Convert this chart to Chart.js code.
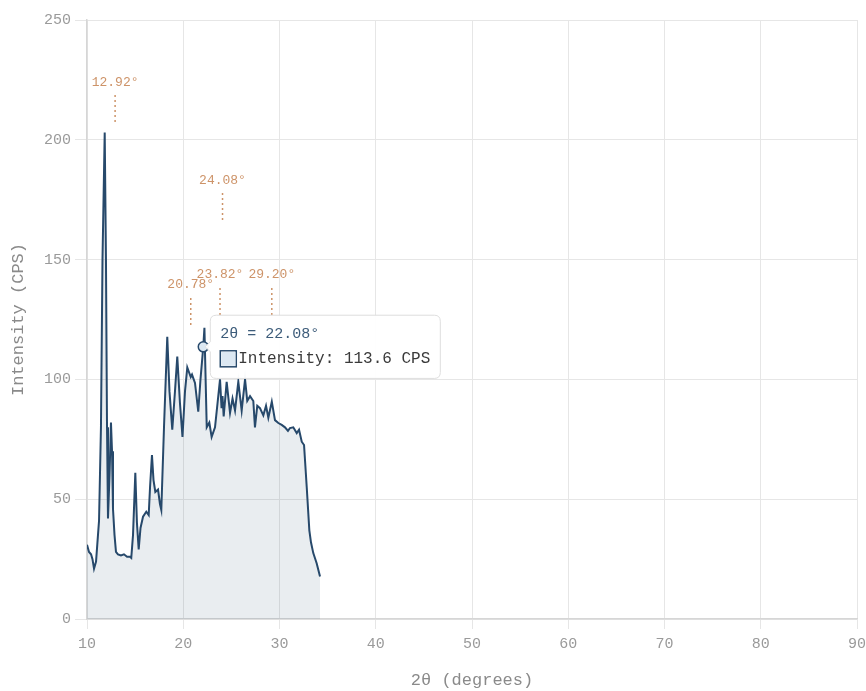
<!DOCTYPE html>
<html>
<head>
<meta charset="utf-8">
<script src="https://cdn.jsdelivr.net/npm/chart.js@4/dist/chart.umd.min.js"></script>
<style>
  html, body { margin: 0; padding: 0; background: #ffffff; }
  canvas { display: block; }
</style>
</head>
<body>
<canvas id="xrd" width="866" height="691"></canvas>
<script>
// Diffraction scan: 2θ angle (degrees) and measured intensity (counts per second)
const twoTheta = [
  10.00, 10.21, 10.42, 10.57, 10.73, 10.94, 11.14, 11.25, 11.45, 11.61,
  11.84, 11.97, 12.08, 12.18, 12.34, 12.49, 12.60, 12.70, 12.86, 13.01,
  13.22, 13.53, 13.84, 14.16, 14.47, 14.60, 14.78, 15.02, 15.19, 15.37,
  15.56, 15.82, 16.16, 16.41, 16.55, 16.75, 16.91, 17.10, 17.38, 17.58,
  17.72, 18.00, 18.34, 18.57, 18.86, 19.14, 19.38, 19.66, 19.92, 20.18,
  20.42, 20.78, 20.91, 21.22, 21.56, 21.79, 22.08, 22.20, 22.44, 22.71,
  22.95, 23.30, 23.56, 23.82, 23.98, 24.08, 24.20, 24.51, 24.86, 25.12,
  25.38, 25.72, 26.07, 26.42, 26.65, 26.94, 27.28, 27.45, 27.69, 27.97,
  28.32, 28.60, 28.84, 29.20, 29.53, 29.88, 30.23, 30.57, 30.88, 31.09,
  31.43, 31.79, 32.03, 32.31, 32.55, 32.83, 33.10, 33.27, 33.51, 33.86,
  34.21
];
const intensity = [
  31, 28, 27, 25, 21, 24, 35, 41, 80, 150,
  203, 150, 80, 42, 60, 82, 70, 46, 35, 28,
  27, 26.5, 27, 26, 26, 25.5, 35, 61, 40, 29,
  38, 42.7, 44.8, 43.4, 55, 68.4, 58, 53, 54, 48,
  45.5, 80, 117.8, 95, 79, 95, 109.5, 90, 76, 95,
  105, 101, 102, 98.5, 86.5, 100, 113.6, 121.5, 80, 82,
  76, 80, 90, 100, 88, 93, 84.5, 99, 86, 92,
  87, 99, 87, 100, 91, 93, 91, 80, 89, 88,
  85, 89, 84, 90.7, 83, 81.8, 81, 80, 78.5, 79.7,
  80, 77.6, 79, 74, 72.6, 55, 37, 32, 27.5, 23.3,
  17.7
];

// Marked peak positions and the intensity level at which each marker sits
const peakPositions = [12.92, 20.78, 23.82, 24.08, 29.20];
const peakMarkerLevels = [207.4, 122.7, 126.9, 166.5, 126.9];

// Axis ranges and tick steps
const xRange = [10, 90];
const xStep = 10;
const yRange = [0, 250];
const yStep = 50;

// Point shown with its readout
const highlightedAngle = 22.08;

const MONO = "'Liberation Mono', 'DejaVu Sans Mono', monospace";
const LINE_COLOR = '#27496b';
const MARK_COLOR = 'rgba(196, 128, 78, 0.85)';

const points = twoTheta.map((t, i) => ({ x: t, y: intensity[i] }));

// Draws the dotted peak markers with their angle labels
const peakMarkers = {
  id: 'peakMarkers',
  afterDatasetsDraw(chart) {
    const { ctx, scales: { x, y } } = chart;
    ctx.save();
    peakPositions.forEach((pos, i) => {
      const px = x.getPixelForValue(pos);
      const bottom = y.getPixelForValue(peakMarkerLevels[i]);
      const top = bottom - 30;
      ctx.strokeStyle = MARK_COLOR;
      ctx.lineWidth = 1.5;
      ctx.setLineDash([2, 3]);
      ctx.beginPath();
      ctx.moveTo(px, bottom);
      ctx.lineTo(px, top);
      ctx.stroke();
      ctx.setLineDash([]);
      ctx.fillStyle = MARK_COLOR;
      ctx.font = `13px ${MONO}`;
      ctx.textAlign = 'center';
      ctx.textBaseline = 'middle';
      ctx.fillText(`${pos.toFixed(2)}°`, px, top - 10);
    });
    ctx.restore();
  }
};

const chart = new Chart(document.getElementById('xrd'), {
  type: 'line',
  data: {
    datasets: [{
      label: 'Intensity',
      data: points,
      borderColor: LINE_COLOR,
      borderWidth: 2,
      backgroundColor: 'rgba(44, 79, 110, 0.1)',
      fill: 'origin',
      tension: 0,
      pointRadius: 0,
      pointHoverRadius: 5,
      pointHoverBorderWidth: 1.5,
      pointHoverBorderColor: LINE_COLOR,
      pointHoverBackgroundColor: 'rgba(220, 232, 242, 1)'
    }]
  },
  options: {
    responsive: false,
    animation: false,
    events: [],
    layout: { padding: { top: 20, right: 9, left: 0, bottom: 0 } },
    scales: {
      x: {
        type: 'linear',
        min: xRange[0],
        max: xRange[1],
        afterFit(scale) {
          scale.height = 72;
          // let the last tick label run into the canvas edge
          scale.paddingRight = 0;
        },
        ticks: {
          stepSize: xStep,
          color: '#9a9a9a',
          font: { family: MONO, size: 15 },
          padding: 6
        },
        grid: { color: '#e6e6e6', tickLength: 10, lineWidth: 1 },
        border: { color: '#d6d6d6', width: 1.5 },
        title: {
          display: true,
          text: '2θ (degrees)',
          color: '#8a8a8a',
          font: { family: MONO, size: 17 },
          padding: { top: 4, bottom: 0 }
        }
      },
      y: {
        min: yRange[0],
        max: yRange[1],
        afterFit(scale) { scale.width = 87; },
        ticks: {
          stepSize: yStep,
          color: '#9a9a9a',
          font: { family: MONO, size: 15 },
          padding: 4
        },
        grid: { color: '#e6e6e6', tickLength: 12, lineWidth: 1 },
        border: { color: '#d6d6d6', width: 1.5 },
        title: {
          display: true,
          text: 'Intensity (CPS)',
          color: '#8a8a8a',
          font: { family: MONO, size: 17 },
          padding: { top: 8, bottom: 4 }
        }
      }
    },
    plugins: {
      legend: { display: false },
      tooltip: {
        enabled: true,
        mode: 'nearest',
        intersect: false,
        xAlign: 'left',
        yAlign: 'center',
        backgroundColor: 'rgba(255, 255, 255, 0.96)',
        borderColor: '#dedede',
        borderWidth: 1,
        cornerRadius: 6,
        padding: 10,
        caretSize: 5,
        caretPadding: 2,
        titleColor: '#3d5c7a',
        titleFont: { family: MONO, size: 15, weight: 'normal' },
        titleMarginBottom: 6,
        bodyColor: '#3a3a3a',
        bodyFont: { family: MONO, size: 16 },
        displayColors: true,
        boxWidth: 16,
        boxHeight: 16,
        callbacks: {
          title: (items) => `2θ = ${items[0].parsed.x.toFixed(2)}°`,
          label: (item) => `Intensity: ${item.parsed.y.toFixed(1)} CPS`,
          labelColor: () => ({
            borderColor: LINE_COLOR,
            backgroundColor: 'rgba(220, 232, 242, 1)',
            borderWidth: 1.5
          })
        }
      }
    }
  },
  plugins: [peakMarkers]
});

// Show the readout for the highlighted angle
const idx = twoTheta.indexOf(highlightedAngle);
const active = [{ datasetIndex: 0, index: idx }];
chart.setActiveElements(active);
const meta = chart.getDatasetMeta(0).data[idx];
chart.tooltip.setActiveElements(active, { x: meta.x, y: meta.y });
chart.update();
</script>
</body>
</html>
